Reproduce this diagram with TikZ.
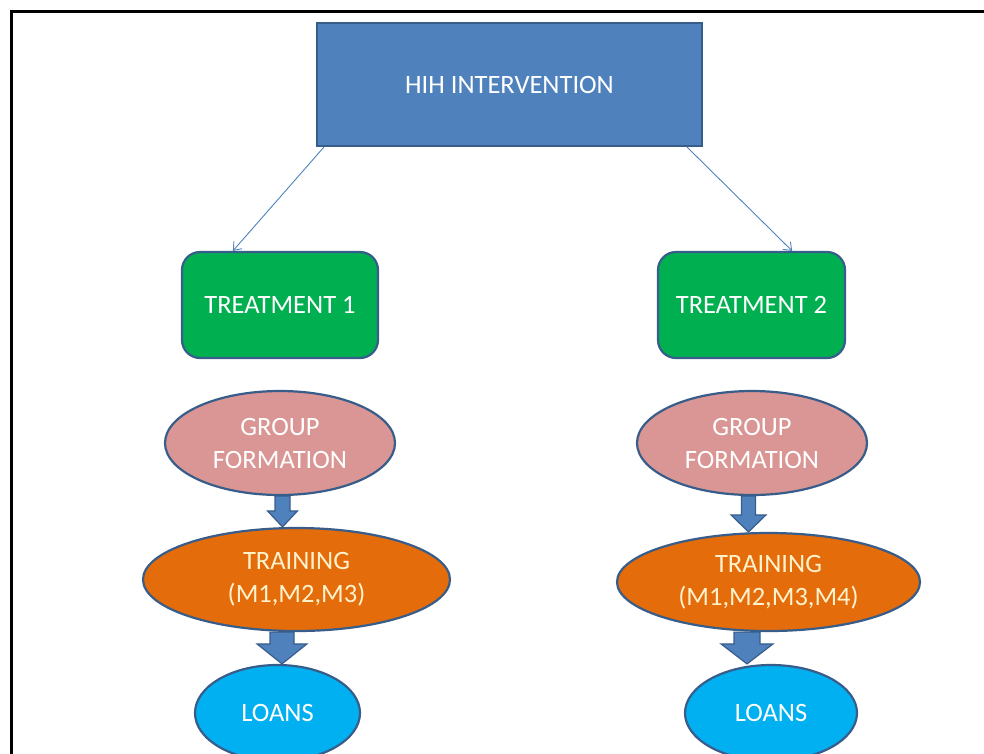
\documentclass[tikz,border=0pt]{standalone}
\usepackage{fontspec}
\setmainfont{Carlito}
\usetikzlibrary{positioning, shapes.geometric, arrows.meta, calc}

\definecolor{HihBlue}{HTML}{4F81BD}
\definecolor{EdgeBlue}{HTML}{385D8A}
\definecolor{TreatGreen}{HTML}{00B050}
\definecolor{GroupPink}{HTML}{D99694}
\definecolor{TrainOrange}{HTML}{E46C0A}
\definecolor{LoanCyan}{HTML}{00B0F0}
\definecolor{CreamText}{HTML}{FFF2CC}

\tikzset{
  boxtext/.style={draw=EdgeBlue, line width=2.2pt, text=white, align=center,
    inner sep=0pt, font=\fontsize{26.5}{33}\selectfont},
  hihbox/.style={boxtext, rectangle, fill=HihBlue, minimum width=385pt, minimum height=123pt},
  treatbox/.style={boxtext, rectangle, rounded corners=18pt, fill=TreatGreen, minimum height=106pt},
  groupell/.style={boxtext, ellipse, fill=GroupPink, minimum width=230pt, minimum height=104pt},
  trainell/.style={boxtext, ellipse, fill=TrainOrange, text=CreamText},
  loanell/.style={boxtext, ellipse, fill=LoanCyan, minimum height=96pt},
  thinarrow/.style={draw=HihBlue, line width=0.9pt, -{Straight Barb[length=7pt, width=11pt]}},
  blockarrow/.style={fill=HihBlue, draw=EdgeBlue, line width=1.2pt, line join=miter}
}

% block arrow: from, to, x shift, half shaft, half head, head length
\newcommand{\BlockArrow}[6]{%
  \coordinate (top) at ($(#1.south)+(#3,0)$);
  \coordinate (tip) at ($(#1.south |- #2.north)+(#3,0)$);
  \filldraw[blockarrow] ($(top)+(-#4,0)$) -- ($(tip)+(-#4,-#6)$) -- ($(tip)+(-#5,-#6)$)
    -- (tip) -- ($(tip)+(#5,-#6)$) -- ($(tip)+(#4,-#6)$) -- ($(top)+(#4,0)$) -- cycle;
}

\begin{document}
\begin{tikzpicture}[x=1pt, y=-1pt]
	\useasboundingbox (0,0) rectangle (984,753);
	
	% ramka
	\draw[line width=3pt] (11,770) -- (11,11.5) -- (1000,11.5);
	
	% Gora
	\node[hihbox] (hih) at (509.5,84.5) {HIH INTERVENTION};
	
	% Dwie grupy
	\node[treatbox, minimum width=196pt] (t1) at (280,305) {TREATMENT 1};
	\node[treatbox, minimum width=187pt] (t2) at (751.5,305) {TREATMENT 2};
	
	% Lewa kolumna
	\node[groupell] (g1) at (280,443) {GROUP\\FORMATION};
	\node[trainell, minimum width=307pt, minimum height=103pt] (tr1) at (296.5,579.5) {TRAINING\\(M1,M2,M3)};
	\node[loanell, minimum width=165pt] (l1) at (277.5,713) {LOANS};
	
	% Prawa kolumna
	\node[groupell] (g2) at (752,443) {GROUP\\FORMATION};
	\node[trainell, minimum width=303pt, minimum height=98pt] (tr2) at (768.5,582) {TRAINING\\(M1,M2,M3,M4)};
	\node[loanell, minimum width=172pt] (l2) at (771,713) {LOANS};
	
	% Cienkie strzalki
	\draw[thinarrow] ($(hih.south west)+(8,0)$) -- ($(t1.north west)+(52,0)$);
	\draw[thinarrow] ($(hih.south east)+(-16,0)$) -- ($(t2.north east)+(-54,0)$);
	
	% Grube strzalki
	\BlockArrow{g1}{tr1}{2.5}{7.5}{15}{16}
	\BlockArrow{tr1}{l1}{-14.5}{12}{25}{20}
	\BlockArrow{g2}{tr2}{-3.5}{7}{17.5}{17}
	\BlockArrow{tr2}{l2}{-21.5}{13}{26}{20}
	
\end{tikzpicture}
\end{document}
